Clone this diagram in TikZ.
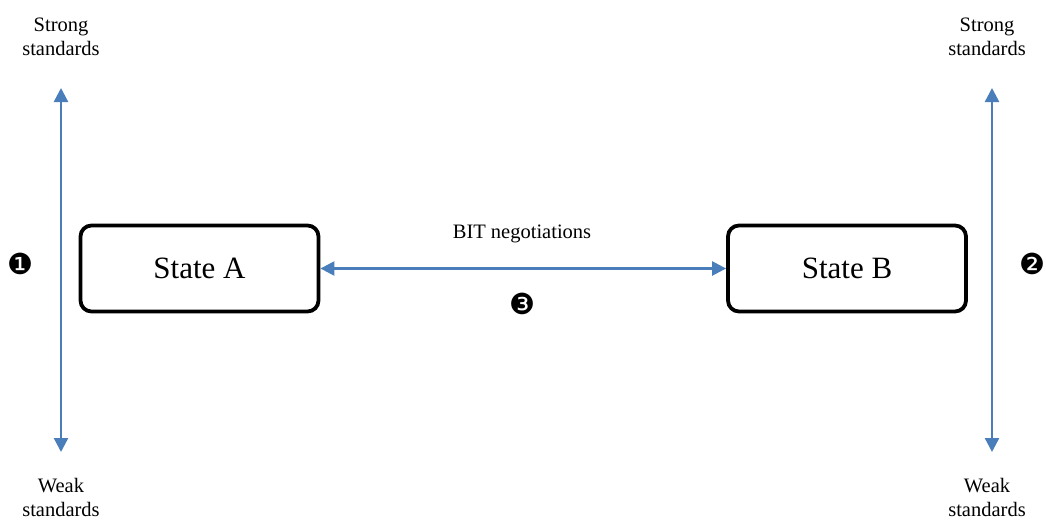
\documentclass[tikz,border=0pt]{standalone}
\usepackage{fontspec}
\setmainfont{Liberation Serif}
\newfontfamily\dingfont{DejaVu Sans}
\usetikzlibrary{arrows.meta}
\definecolor{axisblue}{HTML}{4A7EBB}
\tikzset{
  x=1pt, y=-1pt,
  statebox/.style={draw=black, line width=3.8pt, rounded corners=11pt,
    minimum width=238pt, minimum height=86pt, font=\fontsize{31}{36}\selectfont},
  twoway/.style={axisblue, line width=2.4pt,
    {Triangle[width=14pt,length=14pt]}-{Triangle[width=14pt,length=14pt]}},
  lbl/.style={align=center, font=\fontsize{20.5}{24}\selectfont, inner sep=0pt},
  num/.style={font=\dingfont\fontsize{29}{29}\selectfont, inner sep=0pt}
}
\begin{document}
\begin{tikzpicture}
\useasboundingbox (0,0) rectangle (1046,519);
% the two states
\node[statebox] (A) at (199.5,268.5) {State A};
\node[statebox] (B) at (847,268.5) {State B};
% negotiation link
\draw[twoway] (A.east) -- (B.west);
\node[lbl] (bit) at (522,234) {BIT negotiations};
\node[num] (n3) at (522,304) {❸};
% standards scales
\coordinate (la) at (61,88);
\coordinate (lb) at (61,452);
\coordinate (ra) at (992,88);
\coordinate (rb) at (992,452);
\draw[twoway] (la) -- (lb);
\draw[twoway] (ra) -- (rb);
\node[lbl] (ls) at (61,37) {Strong\\standards};
\node[lbl] (lw) at (61,497) {Weak\\standards};
\node[lbl] (rs) at (987,37) {Strong\\standards};
\node[lbl] (rw) at (987,497) {Weak\\standards};
\node[num] (n1) at (20,264) {❶};
\node[num] (n2) at (1032,264) {❷};
\end{tikzpicture}
\end{document}
